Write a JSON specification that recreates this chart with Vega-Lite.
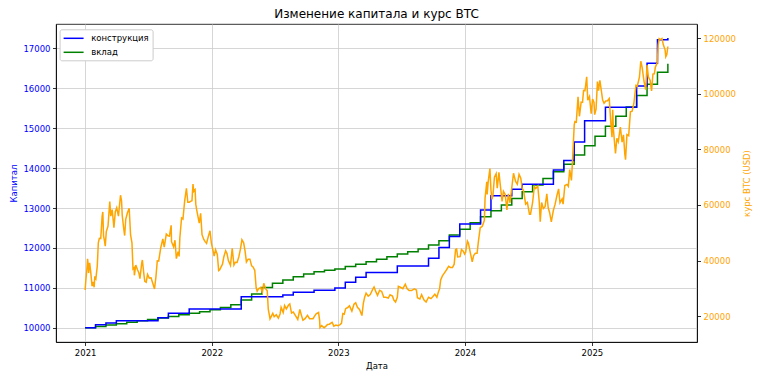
{
  "$schema": "https://vega.github.io/schema/vega-lite/v6.json",
  "width": 641,
  "height": 318,
  "autosize": {"type": "none"},
  "padding": {"left": 56, "top": 24, "right": 61, "bottom": 37},
  "title": {"text": "Изменение капитала и курс BTC", "fontSize": 12, "font": "DejaVu Sans", "fontWeight": "normal", "color": "#000000", "anchor": "middle", "offset": 3},
  "config": {
    "font": "DejaVu Sans",
    "view": {"stroke": "#000000", "strokeWidth": 0.8},
    "axis": {"labelFont": "DejaVu Sans", "titleFont": "DejaVu Sans", "labelFontSize": 8.5, "titleFontSize": 8.5, "titleFontWeight": "normal", "tickColor": "#000000", "tickSize": 3.5, "tickWidth": 0.8, "domainColor": "#000000", "domainWidth": 0.8, "labelPadding": 2.5, "gridColor": "#cccccc", "gridWidth": 0.8},
    "legend": {"orient": "none", "legendX": 3.6, "legendY": 5.3, "fillColor": "#ffffff", "strokeColor": "#cccccc", "cornerRadius": 2, "padding": 3, "symbolType": "M-1,0H3", "symbolSize": 100, "symbolStrokeWidth": 1.5, "labelFontSize": 8.5, "labelFont": "DejaVu Sans", "labelColor": "#000000", "labelOffset": 16.6, "rowPadding": 3}
  },
  "datasets": {
    "cap": [
      {"d":"2021-01-01","s":"вклад","v":10000},{"d":"2021-01-31","s":"вклад","v":10035},{"d":"2021-03-02","s":"вклад","v":10070},{"d":"2021-04-01","s":"вклад","v":10105},{"d":"2021-05-01","s":"вклад","v":10140},{"d":"2021-05-31","s":"вклад","v":10175},{"d":"2021-06-30","s":"вклад","v":10210},{"d":"2021-07-30","s":"вклад","v":10245},{"d":"2021-08-29","s":"вклад","v":10285},{"d":"2021-09-28","s":"вклад","v":10325},{"d":"2021-10-28","s":"вклад","v":10365},{"d":"2021-11-27","s":"вклад","v":10405},{"d":"2021-12-27","s":"вклад","v":10450},{"d":"2022-01-26","s":"вклад","v":10510},{"d":"2022-02-25","s":"вклад","v":10575},{"d":"2022-03-27","s":"вклад","v":10700},{"d":"2022-04-26","s":"вклад","v":10850},{"d":"2022-05-26","s":"вклад","v":11010},{"d":"2022-06-25","s":"вклад","v":11115},{"d":"2022-07-25","s":"вклад","v":11200},{"d":"2022-08-24","s":"вклад","v":11280},{"d":"2022-09-23","s":"вклад","v":11350},{"d":"2022-10-23","s":"вклад","v":11405},{"d":"2022-11-22","s":"вклад","v":11445},{"d":"2022-12-22","s":"вклад","v":11475},{"d":"2023-01-21","s":"вклад","v":11533},{"d":"2023-02-20","s":"вклад","v":11592},{"d":"2023-03-22","s":"вклад","v":11658},{"d":"2023-04-21","s":"вклад","v":11717},{"d":"2023-05-21","s":"вклад","v":11783},{"d":"2023-06-20","s":"вклад","v":11850},{"d":"2023-07-20","s":"вклад","v":11908},{"d":"2023-08-19","s":"вклад","v":11975},{"d":"2023-09-18","s":"вклад","v":12075},{"d":"2023-10-18","s":"вклад","v":12183},{"d":"2023-11-17","s":"вклад","v":12325},{"d":"2023-12-17","s":"вклад","v":12467},{"d":"2024-01-16","s":"вклад","v":12630},{"d":"2024-02-15","s":"вклад","v":12780},{"d":"2024-03-16","s":"вклад","v":12930},{"d":"2024-04-15","s":"вклад","v":13075},{"d":"2024-05-15","s":"вклад","v":13240},{"d":"2024-06-14","s":"вклад","v":13410},{"d":"2024-07-14","s":"вклад","v":13575},{"d":"2024-08-13","s":"вклад","v":13740},{"d":"2024-09-12","s":"вклад","v":13910},{"d":"2024-10-12","s":"вклад","v":14100},{"d":"2024-11-11","s":"вклад","v":14330},{"d":"2024-12-11","s":"вклад","v":14560},{"d":"2025-01-10","s":"вклад","v":14800},{"d":"2025-02-09","s":"вклад","v":15050},{"d":"2025-03-11","s":"вклад","v":15300},{"d":"2025-04-10","s":"вклад","v":15530},{"d":"2025-05-10","s":"вклад","v":15820},{"d":"2025-06-09","s":"вклад","v":16100},{"d":"2025-07-09","s":"вклад","v":16400},{"d":"2025-08-08","s":"вклад","v":16617},
      {"d":"2021-01-01","s":"конструкция","v":10000},{"d":"2021-01-31","s":"конструкция","v":10075},{"d":"2021-03-02","s":"конструкция","v":10120},{"d":"2021-04-01","s":"конструкция","v":10180},{"d":"2021-05-01","s":"конструкция","v":10180},{"d":"2021-05-31","s":"конструкция","v":10180},{"d":"2021-06-30","s":"конструкция","v":10180},{"d":"2021-07-30","s":"конструкция","v":10255},{"d":"2021-08-29","s":"конструкция","v":10365},{"d":"2021-09-28","s":"конструкция","v":10365},{"d":"2021-10-28","s":"конструкция","v":10470},{"d":"2021-11-27","s":"конструкция","v":10470},{"d":"2021-12-27","s":"конструкция","v":10470},{"d":"2022-01-26","s":"конструкция","v":10470},{"d":"2022-02-25","s":"конструкция","v":10470},{"d":"2022-03-27","s":"конструкция","v":10780},{"d":"2022-04-26","s":"конструкция","v":10780},{"d":"2022-05-26","s":"конструкция","v":10780},{"d":"2022-06-25","s":"конструкция","v":10780},{"d":"2022-07-25","s":"конструкция","v":10820},{"d":"2022-08-24","s":"конструкция","v":10890},{"d":"2022-09-23","s":"конструкция","v":10890},{"d":"2022-10-23","s":"конструкция","v":10940},{"d":"2022-11-22","s":"конструкция","v":10940},{"d":"2022-12-22","s":"конструкция","v":10995},{"d":"2023-01-21","s":"конструкция","v":11140},{"d":"2023-02-20","s":"конструкция","v":11265},{"d":"2023-03-22","s":"конструкция","v":11385},{"d":"2023-04-21","s":"конструкция","v":11385},{"d":"2023-05-21","s":"конструкция","v":11385},{"d":"2023-06-20","s":"конструкция","v":11550},{"d":"2023-07-20","s":"конструкция","v":11550},{"d":"2023-08-19","s":"конструкция","v":11550},{"d":"2023-09-18","s":"конструкция","v":11745},{"d":"2023-10-18","s":"конструкция","v":12015},{"d":"2023-11-17","s":"конструкция","v":12285},{"d":"2023-12-17","s":"конструкция","v":12600},{"d":"2024-01-16","s":"конструкция","v":12600},{"d":"2024-02-15","s":"конструкция","v":12950},{"d":"2024-03-16","s":"конструкция","v":13310},{"d":"2024-04-15","s":"конструкция","v":13310},{"d":"2024-05-15","s":"конструкция","v":13470},{"d":"2024-06-14","s":"конструкция","v":13595},{"d":"2024-07-14","s":"конструкция","v":13595},{"d":"2024-08-13","s":"конструкция","v":13595},{"d":"2024-09-12","s":"конструкция","v":13950},{"d":"2024-10-12","s":"конструкция","v":14190},{"d":"2024-11-11","s":"конструкция","v":14655},{"d":"2024-12-11","s":"конструкция","v":15185},{"d":"2025-01-10","s":"конструкция","v":15185},{"d":"2025-02-09","s":"конструкция","v":15525},{"d":"2025-03-11","s":"конструкция","v":15525},{"d":"2025-04-10","s":"конструкция","v":15525},{"d":"2025-05-10","s":"конструкция","v":16055},{"d":"2025-06-09","s":"конструкция","v":16625},{"d":"2025-07-09","s":"конструкция","v":17215},{"d":"2025-08-08","s":"конструкция","v":17260}
    ],
    "btc": [
      {"d":"2021-01-01","p":29400},{"d":"2021-01-03","p":32800},{"d":"2021-01-06","p":36800},{"d":"2021-01-08","p":40600},{"d":"2021-01-10","p":38300},{"d":"2021-01-11","p":35500},{"d":"2021-01-14","p":39200},{"d":"2021-01-17","p":36000},{"d":"2021-01-21","p":30800},{"d":"2021-01-24","p":32300},{"d":"2021-01-27","p":30400},{"d":"2021-01-29","p":34300},{"d":"2021-02-01","p":33500},{"d":"2021-02-05","p":38000},{"d":"2021-02-08","p":46400},{"d":"2021-02-11","p":48000},{"d":"2021-02-15","p":47900},{"d":"2021-02-19","p":55900},{"d":"2021-02-21","p":57500},{"d":"2021-02-23","p":48900},{"d":"2021-02-26","p":47000},{"d":"2021-02-28","p":45200},{"d":"2021-03-03","p":50400},{"d":"2021-03-08","p":52400},{"d":"2021-03-13","p":61200},{"d":"2021-03-16","p":56000},{"d":"2021-03-20","p":58300},{"d":"2021-03-25","p":51800},{"d":"2021-03-29","p":57600},{"d":"2021-04-02","p":59000},{"d":"2021-04-07","p":56000},{"d":"2021-04-13","p":63500},{"d":"2021-04-16","p":61400},{"d":"2021-04-18","p":56200},{"d":"2021-04-22","p":51700},{"d":"2021-04-25","p":49000},{"d":"2021-04-28","p":54800},{"d":"2021-05-03","p":57200},{"d":"2021-05-08","p":58800},{"d":"2021-05-12","p":49200},{"d":"2021-05-16","p":46400},{"d":"2021-05-19","p":37000},{"d":"2021-05-22","p":37400},{"d":"2021-05-23","p":34700},{"d":"2021-05-27","p":38400},{"d":"2021-06-01","p":36700},{"d":"2021-06-05","p":35500},{"d":"2021-06-08","p":33500},{"d":"2021-06-13","p":39000},{"d":"2021-06-15","p":40200},{"d":"2021-06-19","p":35500},{"d":"2021-06-22","p":32500},{"d":"2021-06-26","p":32200},{"d":"2021-06-30","p":35000},{"d":"2021-07-05","p":33700},{"d":"2021-07-10","p":33800},{"d":"2021-07-15","p":31800},{"d":"2021-07-20","p":29800},{"d":"2021-07-24","p":34000},{"d":"2021-07-28","p":39900},{"d":"2021-08-01","p":39800},{"d":"2021-08-07","p":44600},{"d":"2021-08-13","p":47800},{"d":"2021-08-17","p":44800},{"d":"2021-08-23","p":49500},{"d":"2021-08-28","p":48900},{"d":"2021-09-01","p":48800},{"d":"2021-09-06","p":52700},{"d":"2021-09-07","p":46800},{"d":"2021-09-13","p":44900},{"d":"2021-09-17","p":47300},{"d":"2021-09-21","p":40700},{"d":"2021-09-26","p":43200},{"d":"2021-09-29","p":41500},{"d":"2021-10-01","p":48100},{"d":"2021-10-06","p":55300},{"d":"2021-10-10","p":54900},{"d":"2021-10-15","p":61500},{"d":"2021-10-20","p":66000},{"d":"2021-10-24","p":61000},{"d":"2021-10-28","p":61000},{"d":"2021-11-01","p":61300},{"d":"2021-11-05","p":61500},{"d":"2021-11-08","p":67500},{"d":"2021-11-10","p":64900},{"d":"2021-11-14","p":65500},{"d":"2021-11-16","p":60300},{"d":"2021-11-19","p":58000},{"d":"2021-11-26","p":53500},{"d":"2021-11-30","p":57000},{"d":"2021-12-04","p":49300},{"d":"2021-12-09","p":47600},{"d":"2021-12-13","p":46800},{"d":"2021-12-17","p":46200},{"d":"2021-12-22","p":48600},{"d":"2021-12-27","p":50700},{"d":"2021-12-31","p":46300},
      {"d":"2022-01-05","p":43400},{"d":"2022-01-08","p":41600},{"d":"2022-01-12","p":43900},{"d":"2022-01-17","p":42200},{"d":"2022-01-21","p":36400},{"d":"2022-01-24","p":36700},{"d":"2022-01-28","p":37700},{"d":"2022-02-01","p":38700},{"d":"2022-02-05","p":41400},{"d":"2022-02-10","p":43500},{"d":"2022-02-14","p":42500},{"d":"2022-02-18","p":40000},{"d":"2022-02-24","p":38300},{"d":"2022-03-01","p":44400},{"d":"2022-03-06","p":38400},{"d":"2022-03-10","p":39400},{"d":"2022-03-15","p":39300},{"d":"2022-03-20","p":41300},{"d":"2022-03-25","p":44300},{"d":"2022-03-29","p":47500},{"d":"2022-04-03","p":46400},{"d":"2022-04-07","p":43500},{"d":"2022-04-11","p":39500},{"d":"2022-04-16","p":40500},{"d":"2022-04-21","p":40500},{"d":"2022-04-26","p":38100},{"d":"2022-04-30","p":37700},{"d":"2022-05-05","p":36500},{"d":"2022-05-09","p":30300},{"d":"2022-05-12","p":29000},{"d":"2022-05-16","p":29800},{"d":"2022-05-22","p":30300},{"d":"2022-05-27","p":28600},{"d":"2022-05-31","p":31800},{"d":"2022-06-05","p":29900},{"d":"2022-06-10","p":29100},{"d":"2022-06-13","p":22500},{"d":"2022-06-18","p":19000},{"d":"2022-06-22","p":20000},{"d":"2022-06-26","p":21000},{"d":"2022-06-30","p":19800},{"d":"2022-07-06","p":20500},{"d":"2022-07-12","p":19300},{"d":"2022-07-17","p":20800},{"d":"2022-07-20","p":23200},{"d":"2022-07-26","p":21300},{"d":"2022-07-30","p":23800},{"d":"2022-08-04","p":22600},{"d":"2022-08-10","p":23900},{"d":"2022-08-14","p":24400},{"d":"2022-08-19","p":21100},{"d":"2022-08-24","p":21500},{"d":"2022-08-30","p":20300},{"d":"2022-09-06","p":18800},{"d":"2022-09-12","p":22400},{"d":"2022-09-17","p":20100},{"d":"2022-09-21","p":18500},{"d":"2022-09-27","p":19100},{"d":"2022-10-04","p":20300},{"d":"2022-10-10","p":19100},{"d":"2022-10-15","p":19100},{"d":"2022-10-20","p":19100},{"d":"2022-10-25","p":20100},{"d":"2022-10-29","p":20800},{"d":"2022-11-05","p":21300},{"d":"2022-11-08","p":18500},{"d":"2022-11-09","p":15900},{"d":"2022-11-14","p":16600},{"d":"2022-11-21","p":15800},{"d":"2022-11-27","p":16500},{"d":"2022-12-01","p":17000},{"d":"2022-12-06","p":17100},{"d":"2022-12-14","p":17800},{"d":"2022-12-19","p":16400},{"d":"2022-12-25","p":16800},{"d":"2022-12-31","p":16550},
      {"d":"2023-01-05","p":16850},{"d":"2023-01-10","p":17400},{"d":"2023-01-14","p":20900},{"d":"2023-01-18","p":20700},{"d":"2023-01-22","p":22700},{"d":"2023-01-28","p":23100},{"d":"2023-02-02","p":23700},{"d":"2023-02-09","p":21800},{"d":"2023-02-15","p":24300},{"d":"2023-02-20","p":24800},{"d":"2023-02-25","p":23200},{"d":"2023-03-03","p":22400},{"d":"2023-03-10","p":20200},{"d":"2023-03-14","p":24600},{"d":"2023-03-18","p":26900},{"d":"2023-03-22","p":28300},{"d":"2023-03-28","p":27200},{"d":"2023-04-03","p":27800},{"d":"2023-04-10","p":29600},{"d":"2023-04-14","p":30500},{"d":"2023-04-19","p":28800},{"d":"2023-04-24","p":27500},{"d":"2023-04-30","p":29300},{"d":"2023-05-06","p":28900},{"d":"2023-05-12","p":26800},{"d":"2023-05-18","p":26800},{"d":"2023-05-25","p":26500},{"d":"2023-05-30","p":27700},{"d":"2023-06-06","p":27200},{"d":"2023-06-10","p":25800},{"d":"2023-06-15","p":25100},{"d":"2023-06-20","p":26800},{"d":"2023-06-23","p":30700},{"d":"2023-06-29","p":30400},{"d":"2023-07-06","p":29900},{"d":"2023-07-13","p":31500},{"d":"2023-07-18","p":29900},{"d":"2023-07-24","p":29200},{"d":"2023-07-31","p":29200},{"d":"2023-08-08","p":29800},{"d":"2023-08-14","p":29400},{"d":"2023-08-17","p":26600},{"d":"2023-08-24","p":26200},{"d":"2023-08-29","p":27700},{"d":"2023-09-05","p":25800},{"d":"2023-09-11","p":25100},{"d":"2023-09-18","p":26800},{"d":"2023-09-25","p":26300},{"d":"2023-09-30","p":27000},{"d":"2023-10-06","p":27900},{"d":"2023-10-12","p":26800},{"d":"2023-10-16","p":28500},{"d":"2023-10-20","p":29900},{"d":"2023-10-23","p":33000},{"d":"2023-10-28","p":34500},{"d":"2023-11-02","p":35400},{"d":"2023-11-09","p":36700},{"d":"2023-11-15","p":37900},{"d":"2023-11-20","p":37500},{"d":"2023-11-26","p":37500},{"d":"2023-12-01","p":38700},{"d":"2023-12-05","p":44000},{"d":"2023-12-08","p":44200},{"d":"2023-12-11","p":41300},{"d":"2023-12-18","p":41400},{"d":"2023-12-22","p":44000},{"d":"2023-12-27","p":43400},{"d":"2023-12-31","p":42300},
      {"d":"2024-01-03","p":43000},{"d":"2024-01-08","p":47000},{"d":"2024-01-11","p":46300},{"d":"2024-01-16","p":43100},{"d":"2024-01-22","p":39500},{"d":"2024-01-26","p":41800},{"d":"2024-01-31","p":42600},{"d":"2024-02-05","p":42600},{"d":"2024-02-09","p":47100},{"d":"2024-02-14","p":51800},{"d":"2024-02-20","p":52300},{"d":"2024-02-26","p":54500},{"d":"2024-02-28","p":62500},{"d":"2024-03-04","p":68300},{"d":"2024-03-05","p":63800},{"d":"2024-03-08","p":68300},{"d":"2024-03-13","p":73100},{"d":"2024-03-16","p":65300},{"d":"2024-03-19","p":62000},{"d":"2024-03-22","p":63800},{"d":"2024-03-26","p":70000},{"d":"2024-03-31","p":71300},{"d":"2024-04-03","p":66000},{"d":"2024-04-08","p":71700},{"d":"2024-04-12","p":67100},{"d":"2024-04-17","p":61300},{"d":"2024-04-21","p":64900},{"d":"2024-04-26","p":63800},{"d":"2024-05-01","p":58200},{"d":"2024-05-05","p":64000},{"d":"2024-05-10","p":60800},{"d":"2024-05-15","p":66200},{"d":"2024-05-20","p":71400},{"d":"2024-05-26","p":68500},{"d":"2024-05-31","p":67500},{"d":"2024-06-05","p":71000},{"d":"2024-06-10","p":69600},{"d":"2024-06-14","p":66000},{"d":"2024-06-18","p":65100},{"d":"2024-06-24","p":60300},{"d":"2024-06-29","p":60900},{"d":"2024-07-05","p":56700},{"d":"2024-07-08","p":56700},{"d":"2024-07-14","p":60800},{"d":"2024-07-19","p":66600},{"d":"2024-07-23","p":65900},{"d":"2024-07-29","p":66800},{"d":"2024-08-02","p":61400},{"d":"2024-08-05","p":54000},{"d":"2024-08-09","p":60900},{"d":"2024-08-14","p":58700},{"d":"2024-08-19","p":59400},{"d":"2024-08-24","p":64000},{"d":"2024-08-28","p":59000},{"d":"2024-09-01","p":57300},{"d":"2024-09-06","p":53900},{"d":"2024-09-12","p":58100},{"d":"2024-09-17","p":60300},{"d":"2024-09-22","p":63300},{"d":"2024-09-27","p":65800},{"d":"2024-10-01","p":60800},{"d":"2024-10-07","p":62200},{"d":"2024-10-10","p":60300},{"d":"2024-10-15","p":67000},{"d":"2024-10-21","p":67400},{"d":"2024-10-25","p":66700},{"d":"2024-10-29","p":72700},{"d":"2024-11-03","p":68800},{"d":"2024-11-06","p":75600},{"d":"2024-11-11","p":88700},{"d":"2024-11-13","p":90000},{"d":"2024-11-17","p":89800},{"d":"2024-11-22","p":98900},{"d":"2024-11-26","p":91900},{"d":"2024-12-01","p":97000},{"d":"2024-12-05","p":96900},{"d":"2024-12-08","p":101200},{"d":"2024-12-12","p":101100},{"d":"2024-12-17","p":106100},{"d":"2024-12-20","p":97700},{"d":"2024-12-25","p":99000},{"d":"2024-12-30","p":92800},
      {"d":"2025-01-03","p":98100},{"d":"2025-01-07","p":96900},{"d":"2025-01-09","p":92500},{"d":"2025-01-13","p":94500},{"d":"2025-01-17","p":104400},{"d":"2025-01-20","p":101100},{"d":"2025-01-24","p":104800},{"d":"2025-01-28","p":101300},{"d":"2025-02-01","p":97700},{"d":"2025-02-05","p":96600},{"d":"2025-02-10","p":97400},{"d":"2025-02-15","p":97500},{"d":"2025-02-20","p":98300},{"d":"2025-02-25","p":88700},{"d":"2025-02-28","p":84400},{"d":"2025-03-02","p":94200},{"d":"2025-03-04","p":87200},{"d":"2025-03-10","p":78500},{"d":"2025-03-14","p":84000},{"d":"2025-03-18","p":82700},{"d":"2025-03-24","p":88000},{"d":"2025-03-29","p":82600},{"d":"2025-04-02","p":85200},{"d":"2025-04-06","p":78200},{"d":"2025-04-08","p":76300},{"d":"2025-04-12","p":85300},{"d":"2025-04-17","p":84900},{"d":"2025-04-22","p":93500},{"d":"2025-04-27","p":93700},{"d":"2025-05-02","p":96500},{"d":"2025-05-08","p":103000},{"d":"2025-05-12","p":102800},{"d":"2025-05-18","p":106000},{"d":"2025-05-22","p":111700},{"d":"2025-05-26","p":109400},{"d":"2025-05-31","p":104600},{"d":"2025-06-05","p":101500},{"d":"2025-06-09","p":110300},{"d":"2025-06-13","p":106000},{"d":"2025-06-18","p":104800},{"d":"2025-06-22","p":101000},{"d":"2025-06-26","p":107100},{"d":"2025-06-30","p":107200},{"d":"2025-07-03","p":109600},{"d":"2025-07-09","p":111300},{"d":"2025-07-11","p":117500},{"d":"2025-07-14","p":119800},{"d":"2025-07-17","p":119500},{"d":"2025-07-22","p":119900},{"d":"2025-07-26","p":117600},{"d":"2025-07-31","p":115800},{"d":"2025-08-02","p":113300},{"d":"2025-08-05","p":114100},{"d":"2025-08-08","p":117000}
    ]
  },
  "layer": [
    {
      "data": {"name": "cap"},
      "mark": {"type": "line", "interpolate": "step-after", "strokeWidth": 1.5},
      "encoding": {
        "x": {"field": "d", "type": "temporal",
          "scale": {"type": "utc", "domain": [{"year": 2020, "month": 10, "date": 9, "utc": true}, {"year": 2025, "month": 10, "date": 31, "utc": true}]},
          "axis": {"title": "Дата", "format": "%Y", "formatType": "utc", "grid": true, "labelAngle": 0, "titlePadding": 5,
            "values": [{"year": 2021, "month": 1, "date": 1, "utc": true}, {"year": 2022, "month": 1, "date": 1, "utc": true}, {"year": 2023, "month": 1, "date": 1, "utc": true}, {"year": 2024, "month": 1, "date": 1, "utc": true}, {"year": 2025, "month": 1, "date": 1, "utc": true}]}},
        "y": {"field": "v", "type": "quantitative",
          "scale": {"domain": [9645, 17610], "nice": false, "zero": false},
          "axis": {"title": "Капитал", "orient": "left", "grid": true, "values": [10000, 11000, 12000, 13000, 14000, 15000, 16000, 17000], "format": "d", "labelColor": "blue", "titleColor": "blue", "titlePadding": 4}},
        "color": {"field": "s", "type": "nominal",
          "scale": {"domain": ["конструкция", "вклад"], "range": ["blue", "green"]},
          "legend": {"title": null}}
      }
    },
    {
      "data": {"name": "btc"},
      "mark": {"type": "line", "color": "orange", "strokeWidth": 1.5},
      "encoding": {
        "x": {"field": "d", "type": "temporal"},
        "y": {"field": "p", "type": "quantitative",
          "scale": {"domain": [10700, 125100], "nice": false, "zero": false},
          "axis": {"title": "курс BTC (USD)", "orient": "right", "grid": false, "values": [20000, 40000, 60000, 80000, 100000, 120000], "format": "d", "labelColor": "orange", "titleColor": "orange", "titleAngle": 270, "titlePadding": 16}}
      }
    }
  ],
  "resolve": {"scale": {"y": "independent", "color": "independent"}}
}
